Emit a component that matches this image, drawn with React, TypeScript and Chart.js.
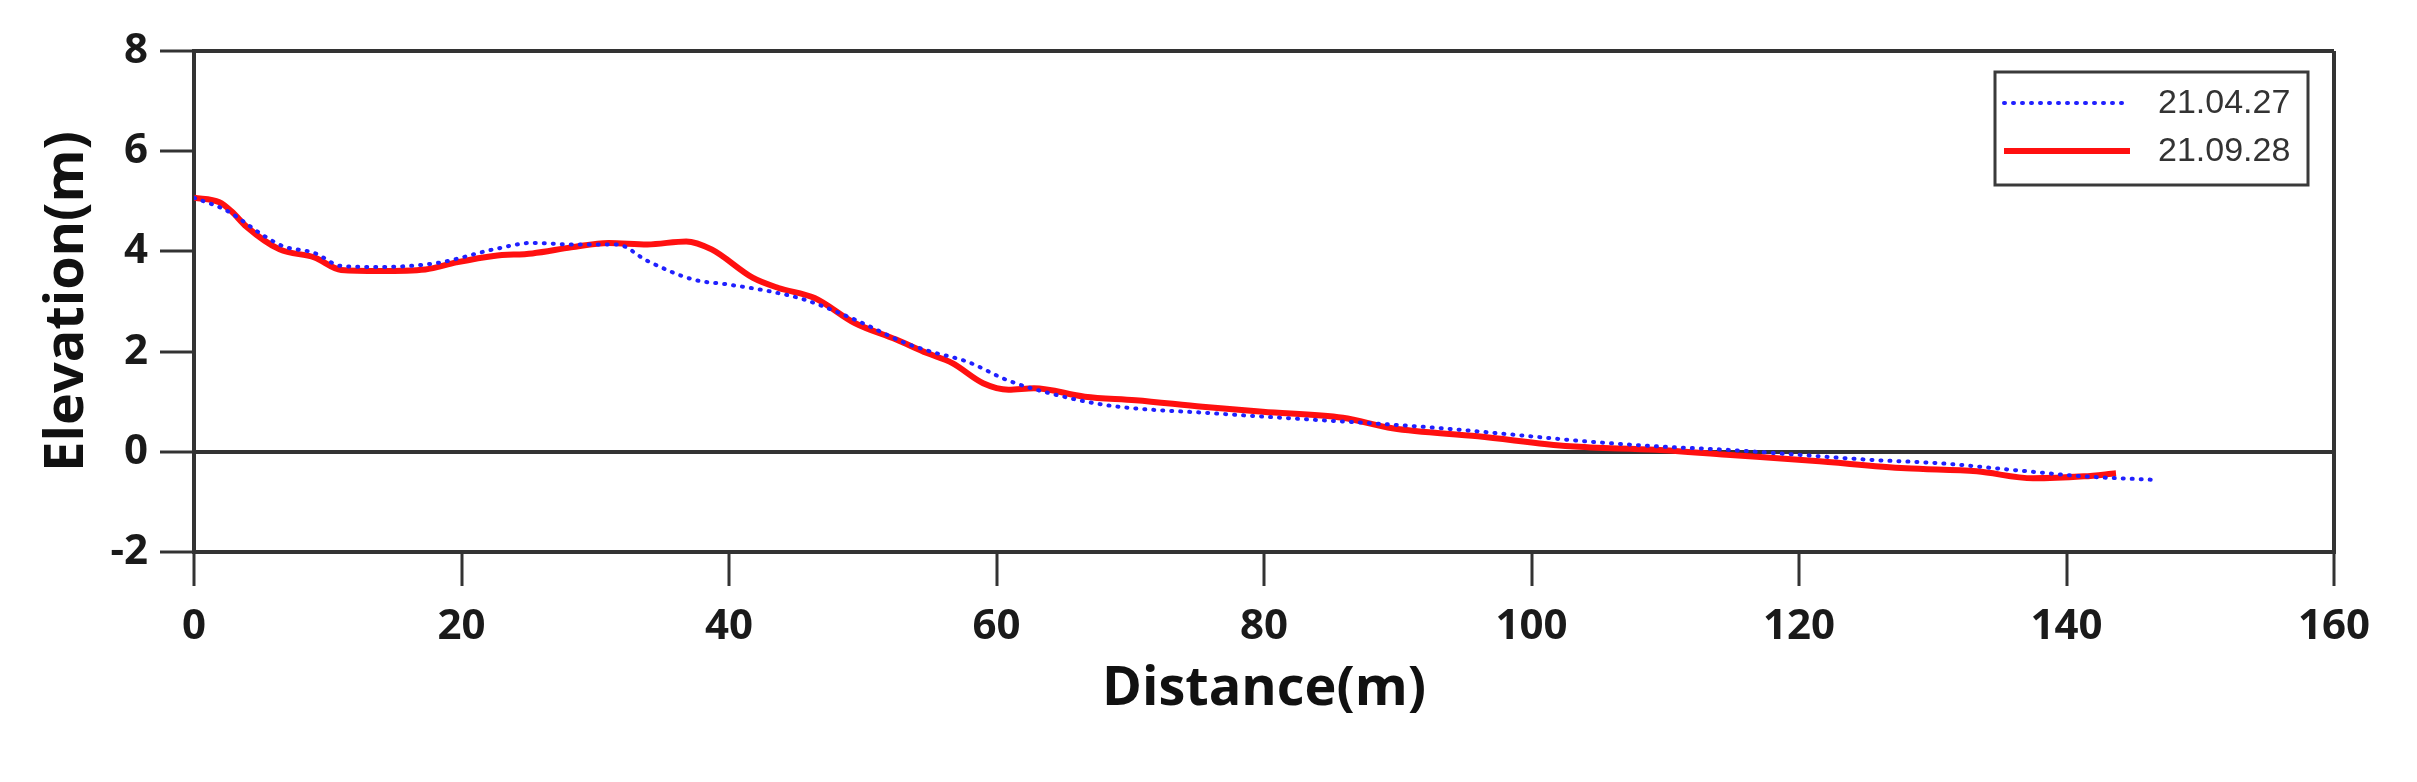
import React, { useEffect, useRef } from "react";
import { Chart, registerables } from "chart.js";

Chart.register(...registerables);

// 21.04.27 survey (blue, dotted)
const distApr = [0, 2.4, 5.3, 6.7, 9, 11, 13.9, 18.2, 22.4, 25.3, 28.2, 31.6, 33.9, 37.3, 39.9, 42.9, 45.6, 49.4, 53.2, 55.1, 57.8, 60.9, 64.7, 68.5, 76.1, 83.7, 88, 93.3, 98.7, 104, 109.3, 114.6, 120, 125.3, 130.6, 135.9, 141.3, 146.6];
const elevApr = [5.07, 4.82, 4.3, 4.1, 3.97, 3.71, 3.69, 3.77, 4.04, 4.17, 4.14, 4.14, 3.81, 3.44, 3.34, 3.21, 3.04, 2.64, 2.17, 2.0, 1.8, 1.42, 1.12, 0.92, 0.77, 0.64, 0.57, 0.47, 0.34, 0.21, 0.11, 0.04, -0.06, -0.16, -0.23, -0.36, -0.49, -0.56];

// 21.09.28 survey (red, solid)
const distSep = [0, 1.9, 2.8, 3.9, 6.4, 9, 11, 13.9, 17.3, 19.6, 22.4, 25.3, 28.2, 31, 33.9, 36.8, 38.7, 41.8, 43.7, 46.4, 49.4, 52.5, 54.8, 56.7, 59, 60.9, 62.8, 66.6, 70.4, 75.4, 79.9, 85.9, 89.6, 96, 102.9, 109.3, 114.6, 121, 128, 133.3, 137.5, 141.3, 143.7];
const elevSep = [5.07, 4.98, 4.8, 4.5, 4.04, 3.88, 3.63, 3.61, 3.64, 3.78, 3.91, 3.96, 4.08, 4.17, 4.14, 4.2, 4.04, 3.47, 3.27, 3.07, 2.57, 2.24, 1.97, 1.77, 1.37, 1.24, 1.27, 1.1, 1.03, 0.9, 0.8, 0.68, 0.47, 0.31, 0.11, 0.04, -0.06, -0.18, -0.33, -0.39, -0.53, -0.49, -0.43];

const seriesLabels = ["21.04.27", "21.09.28"];
const xRange = [0, 160];
const yRange = [-2, 8];
const xStep = 20;
const yStep = 2;
const xTitle = "Distance(m)";
const yTitle = "Elevation(m)";

const AXIS = "#333333";
const TICK_FONT = { family: "'Open Sans', 'DejaVu Sans', sans-serif", size: 42, weight: "bold" as const };
const TITLE_FONT = { family: "'Open Sans', 'DejaVu Sans', sans-serif", size: 54, weight: "bold" as const };

const legendBoxPlugin = {
  id: "legendBox",
  afterDraw(chart: any) {
    const { ctx, chartArea } = chart;
    const left = chartArea.right - 339;
    const right = chartArea.right - 26;
    const top = chartArea.top + 21;
    const bottom = chartArea.top + 134;
    ctx.save();
    ctx.fillStyle = "#ffffff";
    ctx.fillRect(left, top, right - left, bottom - top);
    ctx.strokeStyle = "#3a3a3a";
    ctx.lineWidth = 3;
    ctx.strokeRect(left, top, right - left, bottom - top);
    const rows = [top + 31, top + 79];
    chart.data.datasets.forEach((ds: any, i: number) => {
      const y = rows[i];
      ctx.beginPath();
      ctx.strokeStyle = ds.borderColor;
      ctx.lineWidth = ds.borderWidth;
      ctx.lineCap = ds.borderCapStyle || "butt";
      ctx.setLineDash(ds.borderDash || []);
      ctx.moveTo(left + 9, y);
      ctx.lineTo(left + 135, y);
      ctx.stroke();
      ctx.setLineDash([]);
      ctx.fillStyle = "#333333";
      ctx.font = "34px 'Liberation Sans', Arial, sans-serif";
      ctx.textBaseline = "middle";
      ctx.textAlign = "left";
      ctx.fillText(ds.label, left + 163, y + 1);
    });
    ctx.restore();
  },
};

export default function App() {
  const ref = useRef<HTMLCanvasElement | null>(null);

  useEffect(() => {
    if (!ref.current) return;
    const chart = new Chart(ref.current, {
      type: "line",
      data: {
        datasets: [
          {
            label: seriesLabels[0],
            data: distApr.map((x, i) => ({ x, y: elevApr[i] })),
            borderColor: "#2020ff",
            borderWidth: 4,
            borderDash: [1, 8],
            borderCapStyle: "round",
            pointRadius: 0,
            tension: 0.4,
            cubicInterpolationMode: "monotone",
            fill: false,
          },
          {
            label: seriesLabels[1],
            data: distSep.map((x, i) => ({ x, y: elevSep[i] })),
            borderColor: "#ff1010",
            borderWidth: 6,
            pointRadius: 0,
            tension: 0.4,
            cubicInterpolationMode: "monotone",
            fill: false,
          },
        ],
      },
      options: {
        animation: false,
        responsive: false,
        devicePixelRatio: 1,
        layout: { padding: { top: 51, right: 83, left: 0, bottom: 0 } },
        plugins: {
          legend: { display: false },
          tooltip: { enabled: false },
        },
        scales: {
          x: {
            type: "linear",
            min: xRange[0],
            max: xRange[1],
            afterFit: (s: any) => {
              s.height = 230;
            },
            ticks: { stepSize: xStep, font: TICK_FONT, color: "#1a1a1a", padding: 16, maxRotation: 0 },
            grid: {
              drawOnChartArea: true,
              color: (c: any) => (c.tick && c.tick.value === xRange[1] ? AXIS : "rgba(0,0,0,0)"),
              lineWidth: 4,
              tickColor: AXIS,
              tickWidth: 3,
              tickLength: 34,
            },
            border: { display: true, color: AXIS, width: 4 },
            title: { display: true, text: xTitle, font: TITLE_FONT, color: "#111", padding: { top: 0, bottom: 60 } },
          },
          y: {
            type: "linear",
            min: yRange[0],
            max: yRange[1],
            afterFit: (s: any) => {
              s.width = 194;
            },
            ticks: { stepSize: yStep, font: TICK_FONT, color: "#1a1a1a", padding: 12 },
            grid: {
              drawOnChartArea: true,
              color: (c: any) =>
                c.tick && (c.tick.value === 0 || c.tick.value === yRange[1]) ? AXIS : "rgba(0,0,0,0)",
              lineWidth: 4,
              tickColor: AXIS,
              tickWidth: 3,
              tickLength: 34,
            },
            border: { display: true, color: AXIS, width: 4 },
            title: { display: true, text: yTitle, font: TITLE_FONT, color: "#111", padding: { top: 35, bottom: 0 } },
          },
        },
      },
      plugins: [legendBoxPlugin],
    } as any);
    return () => chart.destroy();
  }, []);

  return (
    <div style={{ position: "absolute", left: 0, top: 0, width: 2417, height: 782, background: "#fff" }}>
      <canvas ref={ref} width={2417} height={782} style={{ width: 2417, height: 782, display: "block" }} />
    </div>
  );
}
